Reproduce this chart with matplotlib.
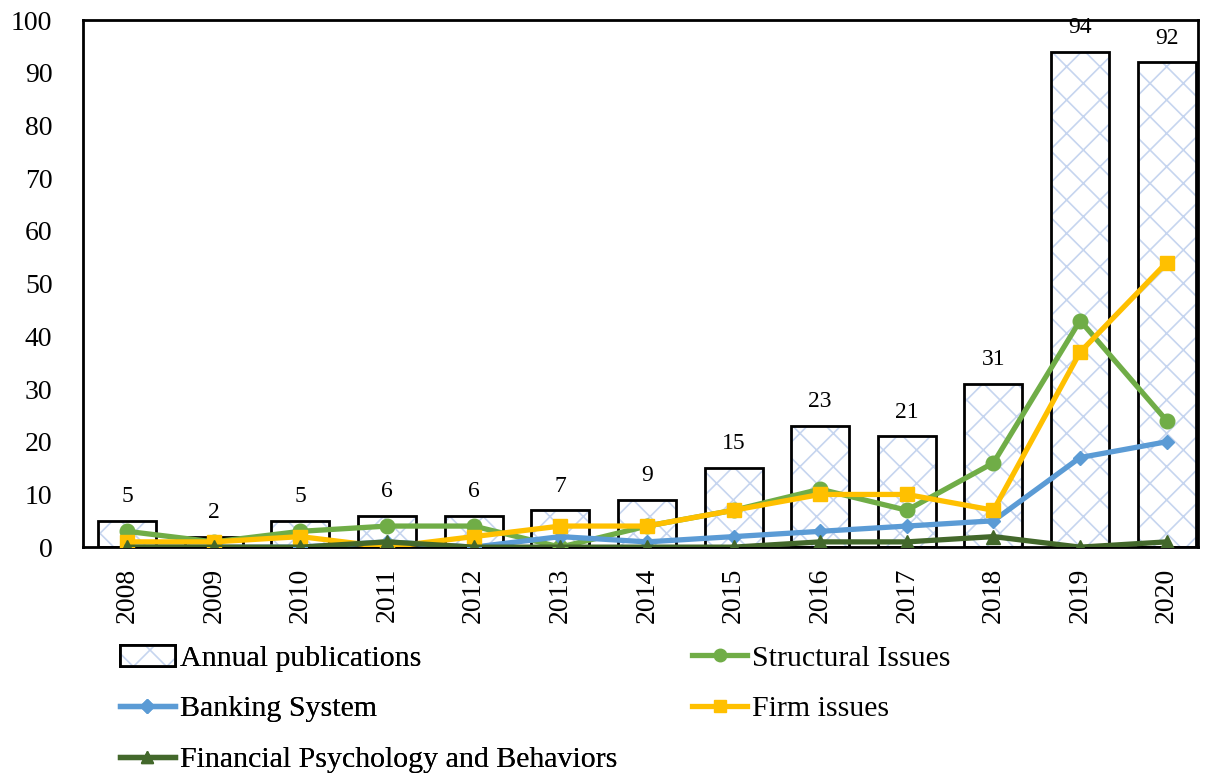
import numpy as np
import matplotlib
matplotlib.use("Agg")
import matplotlib.pyplot as plt
from matplotlib.patches import Patch
from matplotlib.lines import Line2D

years = ["2008", "2009", "2010", "2011", "2012", "2013", "2014",
         "2015", "2016", "2017", "2018", "2019", "2020"]
annual = [5, 2, 5, 6, 6, 7, 9, 15, 23, 21, 31, 94, 92]
structural = [3, 1, 3, 4, 4, 0, 4, 7, 11, 7, 16, 43, 24]
banking = [0, 0, 0, 1, 0, 2, 1, 2, 3, 4, 5, 17, 20]
firm = [1, 1, 2, 0, 2, 4, 4, 7, 10, 10, 7, 37, 54]
psych = [0, 0, 0, 1, 0, 0, 0, 0, 1, 1, 2, 0, 1]

plt.rcParams['font.family'] = ['Liberation Serif', 'DejaVu Serif']
plt.rcParams['hatch.linewidth'] = 1.2

HATCH_C = '#c6d5ef'
C_STRUCT = '#70AD47'
C_BANK = '#5B9BD5'
C_FIRM = '#FFC000'
C_PSYCH = '#43682B'

fig = plt.figure(figsize=(12.1, 7.75), dpi=100)
ax = fig.add_axes([0.0686, 0.294, 0.9214, 0.680])

x = np.arange(len(years))
# hatch fill first, then a black outline on top
ax.bar(x, annual, width=0.67, facecolor='white', edgecolor=HATCH_C,
       linewidth=0, hatch='x', zorder=1)
ax.bar(x, annual, width=0.67, fill=False, edgecolor='black',
       linewidth=2, zorder=1.1)
for xi, v in zip(x, annual):
    ax.text(xi, v + 2.6, str(v), ha='center', va='bottom', fontsize=17, zorder=1)

lw = 3.8
ax.plot(x, structural, color=C_STRUCT, marker='o', ms=10.5, lw=lw, zorder=3)
ax.plot(x, banking, color=C_BANK, marker='D', ms=7.5, lw=lw, zorder=3)
ax.plot(x, firm, color=C_FIRM, marker='s', ms=10.5, lw=lw, zorder=3)
ax.plot(x, psych, color=C_PSYCH, marker='^', ms=10.5, lw=lw, zorder=3)

ax.set_xlim(-0.51, 12.36)
ax.set_ylim(0, 100)
ax.set_yticks(range(0, 101, 10))
ax.set_xticks(x)
ax.set_xticklabels(years, rotation=90)
ax.tick_params(axis='both', length=0, labelsize=20)
ax.tick_params(axis='y', pad=22)
ax.tick_params(axis='x', pad=15)
for s in ax.spines.values():
    s.set_linewidth(2)

bar_handle = (Patch(facecolor='white', edgecolor=HATCH_C, hatch='x', linewidth=0),
              Patch(fill=False, edgecolor='black', linewidth=2))
leg_kw = dict(frameon=False, fontsize=21.5, handlelength=1.85,
              handletextpad=0.15, labelspacing=0.8, borderaxespad=0,
              borderpad=0)

left = fig.legend(
    [bar_handle,
     Line2D([], [], color=C_BANK, marker='D', ms=7, lw=lw),
     Line2D([], [], color=C_PSYCH, marker='^', ms=9, lw=lw)],
    ["Annual publications", "Banking System", "Financial Psychology and Behaviors"],
    loc='upper left', bbox_to_anchor=(0.099, 0.168), **leg_kw)
fig.add_artist(left)
fig.legend(
    [Line2D([], [], color=C_STRUCT, marker='o', ms=9, lw=lw),
     Line2D([], [], color=C_FIRM, marker='s', ms=9, lw=lw)],
    ["Structural Issues", "Firm issues"],
    loc='upper left', bbox_to_anchor=(0.572, 0.168), **leg_kw)

fig.savefig("out.png", dpi=100)
